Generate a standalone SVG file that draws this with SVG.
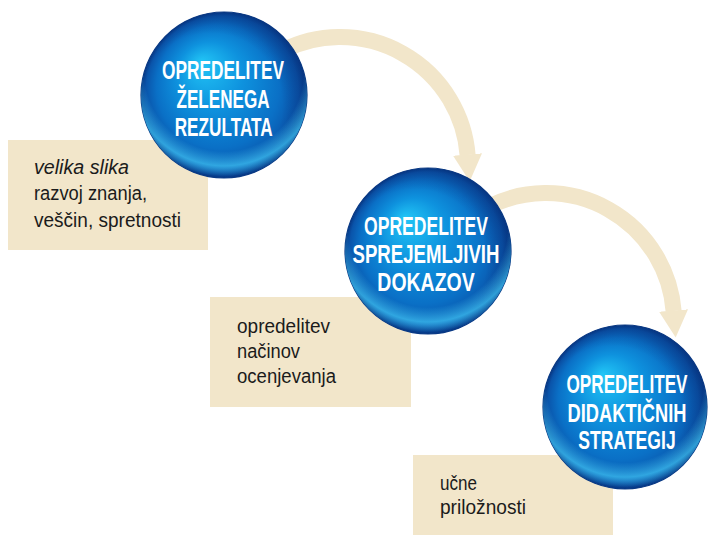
<svg xmlns="http://www.w3.org/2000/svg" width="709" height="535" viewBox="0 0 709 535">
  <style>
    .box { fill: #F2E6CA; }
    .flow { fill: none; stroke: #F2E6CA; stroke-width: 16; marker-end: url(#head); }
    .ball { fill: url(#ballFill); stroke: #0A3A85; stroke-width: 1.2; }
    .glow { fill: url(#rimGlow); }
    .shade { fill: url(#edgeShade); }
    .lbl { font-family: "Liberation Sans", Arial, sans-serif; font-weight: bold; font-size: 25px; fill: #FFFFFF; text-anchor: middle; }
    .txt { font-family: "Liberation Sans", Arial, sans-serif; font-size: 20px; fill: #1B1B1B; }
    .it { font-style: italic; }
  </style>
  <defs>
    <radialGradient id="ballFill" cx="0.5" cy="0.5" r="0.5" fx="0.36" fy="0.3">
      <stop offset="0" stop-color="#22C6F6"/>
      <stop offset="0.4" stop-color="#0E92DE"/>
      <stop offset="0.74" stop-color="#0A70C6"/>
      <stop offset="0.92" stop-color="#0A54AA"/>
      <stop offset="1" stop-color="#063886"/>
    </radialGradient>
    <radialGradient id="rimGlow" cx="0.5" cy="0.36" r="0.63">
      <stop offset="0" stop-color="#40C8F7" stop-opacity="0"/>
      <stop offset="0.76" stop-color="#40C8F7" stop-opacity="0"/>
      <stop offset="0.9" stop-color="#40C8F7" stop-opacity="0.7"/>
      <stop offset="1" stop-color="#40C8F7" stop-opacity="0"/>
    </radialGradient>
    <radialGradient id="edgeShade" cx="0.42" cy="0.56" r="0.6">
      <stop offset="0.72" stop-color="#06307A" stop-opacity="0"/>
      <stop offset="0.95" stop-color="#06307A" stop-opacity="0.4"/>
    </radialGradient>
    <marker id="head" markerUnits="userSpaceOnUse" viewBox="0 0 28 30" markerWidth="28" markerHeight="30" refX="0.5" refY="15" orient="auto">
      <path d="M0,0.5 L27,15 L0,29.5 Z" fill="#F2E6CA"/>
    </marker>
  </defs>

  <!-- curved flow arrows between the steps -->
  <g id="connectors">
    <path class="flow" d="M282 51 A128 128 0 0 1 467.6 155"/>
    <path class="flow" d="M488 207 A128 128 0 0 1 673.6 311"/>
  </g>

  <!-- step 1 -->
  <g id="step1">
    <rect class="box" x="8" y="140" width="200" height="110"/>
    <text class="txt it" x="34" y="174" textLength="95" lengthAdjust="spacingAndGlyphs">velika slika</text>
    <text class="txt" x="34" y="200" textLength="113" lengthAdjust="spacingAndGlyphs">razvoj znanja,</text>
    <text class="txt" x="34" y="227" textLength="147" lengthAdjust="spacingAndGlyphs">veščin, spretnosti</text>
    <circle class="ball" cx="224" cy="95" r="83"/>
    <circle class="shade" cx="224" cy="95" r="83"/>
    <circle class="glow" cx="224" cy="95" r="83"/>
    <!-- condensed caps: narrowed horizontally around the ball centre -->
    <g transform="translate(223 0) scale(0.7 1)">
      <text class="lbl" x="0" y="79" textLength="174" lengthAdjust="spacingAndGlyphs">OPREDELITEV</text>
      <text class="lbl" x="0" y="108" textLength="133" lengthAdjust="spacingAndGlyphs">ŽELENEGA</text>
      <text class="lbl" x="1" y="136" textLength="140" lengthAdjust="spacingAndGlyphs">REZULTATA</text>
    </g>
  </g>

  <!-- step 2 -->
  <g id="step2">
    <rect class="box" x="210" y="297" width="201" height="110"/>
    <text class="txt" x="237" y="333" textLength="93" lengthAdjust="spacingAndGlyphs">opredelitev</text>
    <text class="txt" x="237" y="358" textLength="63" lengthAdjust="spacingAndGlyphs">načinov</text>
    <text class="txt" x="237" y="383" textLength="99" lengthAdjust="spacingAndGlyphs">ocenjevanja</text>
    <circle class="ball" cx="428" cy="251" r="83"/>
    <circle class="shade" cx="428" cy="251" r="83"/>
    <circle class="glow" cx="428" cy="251" r="83"/>
    <g transform="translate(426 0) scale(0.7 1)">
      <text class="lbl" x="0" y="235" textLength="177" lengthAdjust="spacingAndGlyphs">OPREDELITEV</text>
      <text class="lbl" x="0" y="263" textLength="210" lengthAdjust="spacingAndGlyphs">SPREJEMLJIVIH</text>
      <text class="lbl" x="0" y="291" textLength="139" lengthAdjust="spacingAndGlyphs">DOKAZOV</text>
    </g>
  </g>

  <!-- step 3 -->
  <g id="step3">
    <rect class="box" x="413" y="455" width="200" height="80"/>
    <text class="txt" x="440" y="490" textLength="37" lengthAdjust="spacingAndGlyphs">učne</text>
    <text class="txt" x="440" y="514" textLength="86" lengthAdjust="spacingAndGlyphs">priložnosti</text>
    <circle class="ball" cx="625" cy="407" r="82"/>
    <circle class="shade" cx="625" cy="407" r="82"/>
    <circle class="glow" cx="625" cy="407" r="82"/>
    <g transform="translate(627 0) scale(0.7 1)">
      <text class="lbl" x="0" y="393" textLength="173" lengthAdjust="spacingAndGlyphs">OPREDELITEV</text>
      <text class="lbl" x="0" y="422" textLength="170" lengthAdjust="spacingAndGlyphs">DIDAKTIČNIH</text>
      <text class="lbl" x="0" y="449" textLength="139" lengthAdjust="spacingAndGlyphs">STRATEGIJ</text>
    </g>
  </g>
</svg>
